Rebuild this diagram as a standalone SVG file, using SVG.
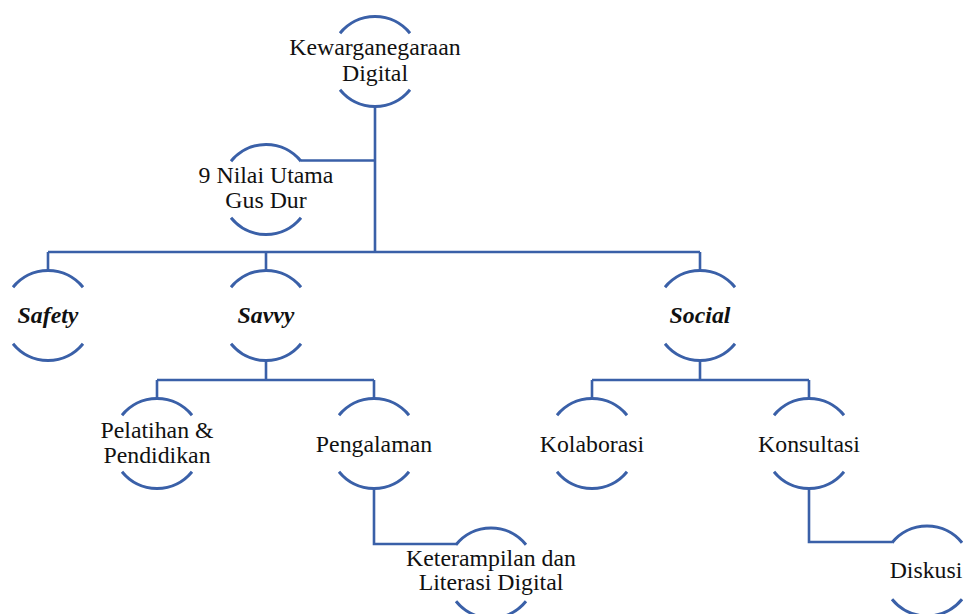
<svg xmlns="http://www.w3.org/2000/svg" width="963" height="614" viewBox="0 0 963 614">
<style>
.arc{fill:none;stroke:#3a60a8;stroke-width:3}
.ln{fill:none;stroke:#3a60a8;stroke-width:2.6}
</style>
<rect width="963" height="614" fill="#fff"/>
<g id="connectors" class="ln">
<path d="M375,106 V252 M301,160.5 H375 M48,252 H700 M48,252 V271 M266,252 V271 M700,252 V271"/>
<path d="M266,360 V380 M157,380 H374 M157,380 V399 M374,380 V399"/>
<path d="M700,360 V380 M592,380 H809 M592,380 V399 M809,380 V399"/>
<path d="M374,488 V544 H457"/>
<path d="M809,488 V542 H892"/>
</g>
<g id="nodes" font-family="Times New Roman" font-size="23.8" fill="#111" text-anchor="middle">
<g id="n-kewarganegaraan">
<path class="arc" d="M340,33.2 A45,45 0 0 1 410,33.2 M340,89.8 A45,45 0 0 0 410,89.8"/>
<text x="375" y="55">Kewarganegaraan</text>
<text x="375" y="81">Digital</text>
</g>
<g id="n-nilai">
<path class="arc" d="M231,161.2 A45,45 0 0 1 301,161.2 M231,217.8 A45,45 0 0 0 301,217.8"/>
<text x="266" y="183">9 Nilai Utama</text>
<text x="266" y="208">Gus Dur</text>
</g>
<g id="n-safety">
<path class="arc" d="M13,287.2 A45,45 0 0 1 83,287.2 M13,343.8 A45,45 0 0 0 83,343.8"/>
<text x="48" y="323" font-weight="bold" font-style="italic">Safety</text>
</g>
<g id="n-savvy">
<path class="arc" d="M231,287.2 A45,45 0 0 1 301,287.2 M231,343.8 A45,45 0 0 0 301,343.8"/>
<text x="266" y="323" font-weight="bold" font-style="italic">Savvy</text>
</g>
<g id="n-social">
<path class="arc" d="M665,287.2 A45,45 0 0 1 735,287.2 M665,343.8 A45,45 0 0 0 735,343.8"/>
<text x="700" y="323" font-weight="bold" font-style="italic">Social</text>
</g>
<g id="n-pelatihan">
<path class="arc" d="M122,415.2 A45,45 0 0 1 192,415.2 M122,471.8 A45,45 0 0 0 192,471.8"/>
<text x="157" y="438">Pelatihan &amp;</text>
<text x="157" y="463">Pendidikan</text>
</g>
<g id="n-pengalaman">
<path class="arc" d="M339,415.2 A45,45 0 0 1 409,415.2 M339,471.8 A45,45 0 0 0 409,471.8"/>
<text x="374" y="452">Pengalaman</text>
</g>
<g id="n-kolaborasi">
<path class="arc" d="M557,415.2 A45,45 0 0 1 627,415.2 M557,471.8 A45,45 0 0 0 627,471.8"/>
<text x="592" y="452">Kolaborasi</text>
</g>
<g id="n-konsultasi">
<path class="arc" d="M774,415.2 A45,45 0 0 1 844,415.2 M774,471.8 A45,45 0 0 0 844,471.8"/>
<text x="809" y="452">Konsultasi</text>
</g>
<g id="n-keterampilan">
<path class="arc" d="M456,544.7 A45,45 0 0 1 526,544.7 M456,601.3 A45,45 0 0 0 526,601.3"/>
<text x="491" y="566">Keterampilan dan</text>
<text x="491" y="590">Literasi Digital</text>
</g>
<g id="n-diskusi">
<path class="arc" d="M892,542.7 A45,45 0 0 1 962,542.7 M892,599.3 A45,45 0 0 0 962,599.3"/>
<text x="926" y="578">Diskusi</text>
</g>
</g>
</svg>
